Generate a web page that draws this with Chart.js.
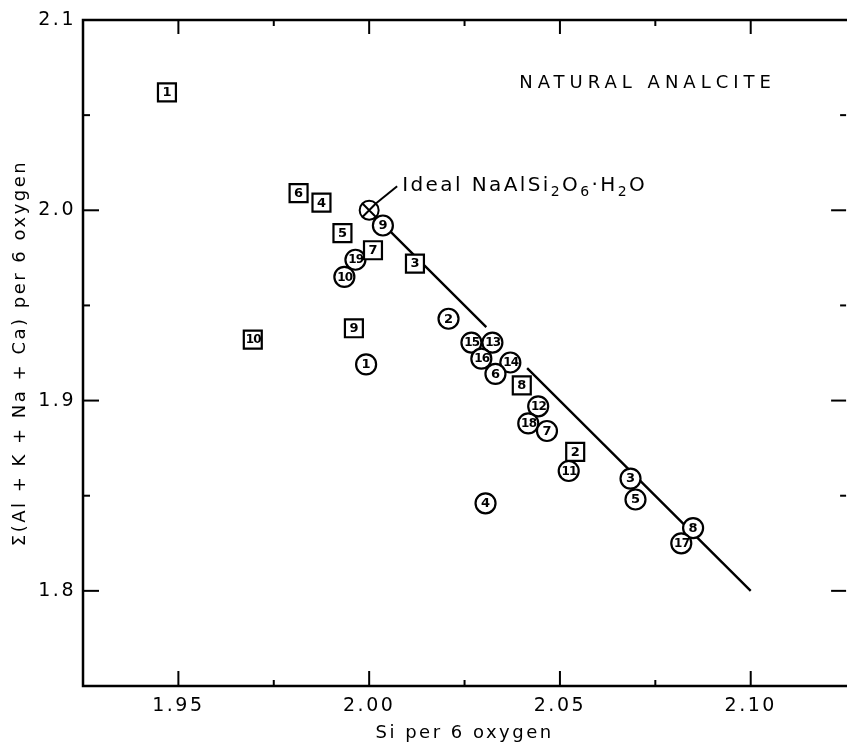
<!DOCTYPE html>
<html>
<head>
<meta charset="utf-8">
<script src="https://cdn.jsdelivr.net/npm/chart.js@4.4.1/dist/chart.umd.min.js"></script>
<style>
  html, body { margin: 0; padding: 0; background: #fff; overflow: hidden; }
  /* un poco mas ancho que la ventana: el borde derecho del grafico queda cortado como en el original */
  #wrap { width: 861px; height: 745px; position: relative; }
</style>
</head>
<body>
<div id="wrap"><canvas id="graficoAnalcita"></canvas></div>
<script>
// Datos (Si por 6 oxigenos vs suma Al+K+Na+Ca)
const squareIds = ['1', '6', '4', '5', '7', '3', '10', '9', '8', '2'];
const squareSi  = [1.947, 1.9815, 1.9875, 1.993, 2.001, 2.012, 1.9695, 1.996, 2.040, 2.054];
const squareSum = [2.062, 2.009, 2.004, 1.988, 1.979, 1.972, 1.932, 1.938, 1.908, 1.873];

const circleIds = ['9', '19', '10', '1', '2', '15', '13', '16', '14', '6', '12', '18', '7', '11', '4', '3', '5', '8', '17'];
const circleSi  = [2.0036, 1.9964, 1.9935, 1.9992, 2.0208, 2.0268, 2.0323, 2.0294, 2.037, 2.0331, 2.0443, 2.0417, 2.0466, 2.0523, 2.0305, 2.0685, 2.0698, 2.0849, 2.0818];
const circleSum = [1.992, 1.974, 1.965, 1.919, 1.943, 1.9305, 1.9305, 1.922, 1.920, 1.914, 1.897, 1.888, 1.884, 1.863, 1.846, 1.859, 1.848, 1.833, 1.825];

// Composicion ideal NaAlSi2O6.H2O
const idealSi  = [2.000];
const idealSum = [2.000];

// Linea ideal (null = hueco en la linea)
const lineSi  = [2.000, 2.0307, 2.036, 2.0414, 2.100];
const lineSum = [2.000, 1.9386, null, 1.917, 1.800];

// Marcas de los ejes
const xTickValues = [1.95, 2.00, 2.05, 2.10];
const xTickLabels = ['1.95', '2.00', '2.05', '2.10'];
const xMinorTicks = [1.975, 2.025, 2.075];
const yTickValues = [1.8, 1.9, 2.0, 2.1];
const yTickLabels = ['1.8', '1.9', '2.0', '2.1'];
const yMajorTicks = [1.8, 1.9, 2.0];
const yMinorTicks = [1.85, 1.95, 2.05];

const toPoints = (xs, ys) => xs.map((x, i) => ({ x: x, y: ys[i] }));

const FONT = '"DejaVu Sans", sans-serif';

// Plugin: marco, marcas hacia dentro, numeros en los simbolos y textos
const marcoPlugin = {
  id: 'marco',
  beforeDraw(chart) {
    chart.ctx.letterSpacing = '2.5px';
  },
  afterDatasetsDraw(chart) {
    const ctx = chart.ctx;
    const { left, right, top, bottom } = chart.chartArea;
    const xs = chart.scales.x;
    const ys = chart.scales.y;
    ctx.save();
    ctx.strokeStyle = '#000';
    ctx.lineCap = 'butt';

    // marco (el borde derecho queda fuera de la imagen)
    ctx.lineWidth = 2.5;
    ctx.beginPath();
    ctx.moveTo(right + 2, top);
    ctx.lineTo(left, top);
    ctx.lineTo(left, bottom);
    ctx.lineTo(right + 2, bottom);
    ctx.stroke();

    // marcas
    ctx.lineWidth = 2;
    const tick = (x1, y1, x2, y2) => { ctx.beginPath(); ctx.moveTo(x1, y1); ctx.lineTo(x2, y2); ctx.stroke(); };
    xTickValues.forEach(v => { const px = xs.getPixelForValue(v); tick(px, bottom, px, bottom - 15); tick(px, top, px, top + 14); });
    xMinorTicks.forEach(v => { const px = xs.getPixelForValue(v); tick(px, bottom, px, bottom - 6); tick(px, top, px, top + 6); });
    yMajorTicks.forEach(v => { const py = ys.getPixelForValue(v); tick(left, py, left + 16, py); tick(right, py, right - 15, py); });
    yMinorTicks.forEach(v => { const py = ys.getPixelForValue(v); tick(left, py, left + 7, py); tick(right, py, right - 6, py); });

    // numeros dentro de los simbolos
    ctx.fillStyle = '#000';
    ctx.textAlign = 'center';
    ctx.textBaseline = 'middle';
    chart.data.datasets.forEach((ds, i) => {
      if (!ds.etiquetas) return;
      const meta = chart.getDatasetMeta(i);
      meta.data.forEach((pt, j) => {
        const txt = ds.etiquetas[j];
        ctx.letterSpacing = txt.length > 1 ? '-0.8px' : '0px';
        ctx.font = (txt.length > 1 ? 'bold 12px ' : 'bold 13px ') + FONT;
        ctx.fillText(txt, pt.x + (txt.length > 1 ? 0.4 : 0), pt.y + 0.5);
      });
    });

    // titulo interior
    ctx.letterSpacing = '5px';
    ctx.font = '18px ' + FONT;
    ctx.textAlign = 'center';
    ctx.textBaseline = 'alphabetic';
    ctx.fillText('NATURAL ANALCITE', xs.getPixelForValue(2.0727) + 1, ys.getPixelForValue(2.0679) + 7);

    // etiqueta de la composicion ideal con linea guia
    const ix = xs.getPixelForValue(idealSi[0]);
    const iy = ys.getPixelForValue(idealSum[0]);
    ctx.lineWidth = 2;
    tick(ix + 7, iy - 7, ix + 28, iy - 24);
    ctx.letterSpacing = '2.4px';
    ctx.textAlign = 'left';
    let cx = ix + 33;
    const base = iy - 19;
    const parts = [['Ideal NaAlSi', false], ['2', true], ['O', false], ['6', true], ['\u00B7H', false], ['2', true], ['O', false]];
    parts.forEach(([t, sub]) => {
      ctx.font = (sub ? '14px ' : '20px ') + FONT;
      ctx.fillText(t, cx, sub ? base + 5 : base);
      cx += ctx.measureText(t).width;
    });
    ctx.restore();
  }
};

const ctx = document.getElementById('graficoAnalcita').getContext('2d');
const grafico = new Chart(ctx, {
  type: 'scatter',
  data: {
    datasets: [
      {
        label: 'Ideal circulo',
        data: toPoints(idealSi, idealSum),
        pointStyle: 'circle',
        pointRadius: 9.5,
        borderColor: '#000',
        backgroundColor: '#fff',
        borderWidth: 2,
        order: 1,
      },
      {
        label: 'Ideal cruz',
        data: toPoints(idealSi, idealSum),
        pointStyle: 'crossRot',
        pointRadius: 9.5,
        borderColor: '#000',
        borderWidth: 2,
        order: 0,
      },
      {
        label: 'Cuadrados',
        data: toPoints(squareSi, squareSum),
        etiquetas: squareIds,
        pointStyle: 'rect',
        pointRadius: 12.7,
        borderColor: '#000',
        backgroundColor: '#fff',
        borderWidth: 2.2,
        order: 2,
      },
      {
        label: 'Circulos',
        data: toPoints(circleSi, circleSum),
        etiquetas: circleIds,
        pointStyle: 'circle',
        pointRadius: 10,
        borderColor: '#000',
        backgroundColor: '#fff',
        borderWidth: 2.2,
        order: 2,
      },
      {
        label: 'Linea ideal',
        data: toPoints(lineSi, lineSum),
        showLine: true,
        spanGaps: false,
        borderColor: '#000',
        borderWidth: 2.4,
        pointRadius: 0,
        order: 10,
      },
    ],
  },
  options: {
    responsive: true,
    maintainAspectRatio: false,
    animation: false,
    layout: { padding: { top: 20, right: 0, left: 0, bottom: 0 } },
    plugins: {
      legend: { display: false },
      tooltip: { enabled: false },
    },
    scales: {
      x: {
        type: 'linear',
        min: 1.925,
        max: 2.125,
        afterFit: (s) => { s.height = 59; s.paddingLeft = 0; s.paddingRight = 0; },
        afterBuildTicks: (s) => { s.ticks = xTickValues.map(v => ({ value: v })); },
        grid: { display: false, drawTicks: false },
        border: { display: false },
        ticks: {
          color: '#000',
          padding: 9,
          maxRotation: 0,
          font: { family: FONT, size: 19 },
          callback: (v) => xTickLabels[xTickValues.findIndex(t => Math.abs(t - v) < 1e-6)],
        },
        title: {
          display: true,
          text: 'Si per 6 oxygen',
          color: '#000',
          font: { family: FONT, size: 18, lineHeight: 1.2 },
          padding: { top: 0, bottom: 1 },
        },
      },
      y: {
        type: 'linear',
        min: 1.75,
        max: 2.1,
        afterFit: (s) => { s.width = 83; s.paddingTop = 0; s.paddingBottom = 0; },
        afterBuildTicks: (s) => { s.ticks = yTickValues.map(v => ({ value: v })); },
        grid: { display: false, drawTicks: false },
        border: { display: false },
        ticks: {
          color: '#000',
          padding: 7,
          font: { family: FONT, size: 19 },
          callback: (v) => yTickLabels[yTickValues.findIndex(t => Math.abs(t - v) < 1e-6)],
        },
        title: {
          display: true,
          text: '\u03A3(Al + K + Na + Ca) per 6 oxygen',
          color: '#000',
          font: { family: FONT, size: 18, lineHeight: 1.2 },
          padding: { top: 10, bottom: 0 },
        },
      },
    },
  },
  plugins: [marcoPlugin],
});
</script>
</body>
</html>
